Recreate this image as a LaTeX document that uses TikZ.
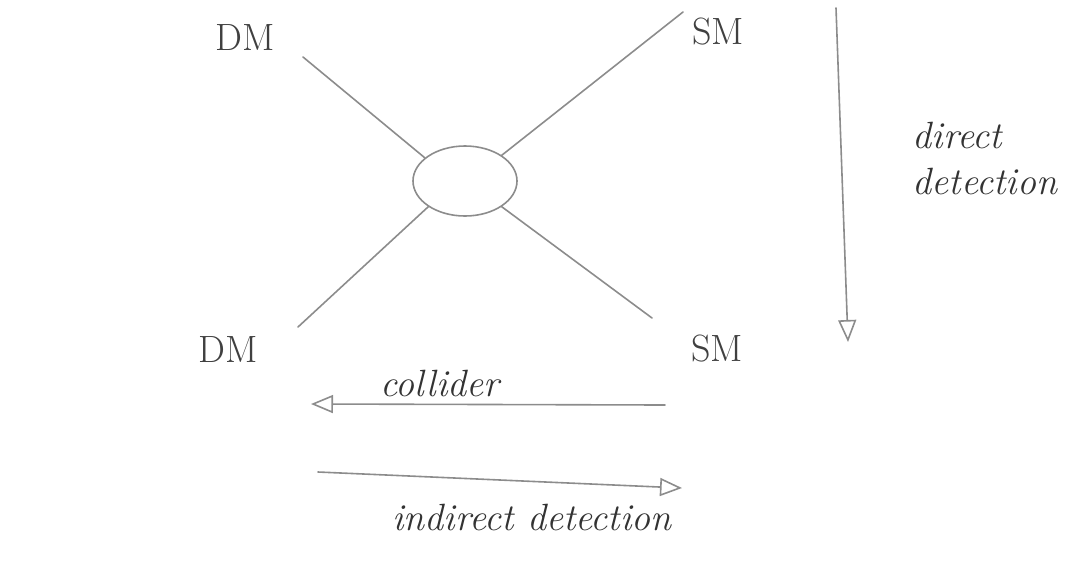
\documentclass[tikz,border=0pt]{standalone}
\usetikzlibrary{arrows.meta,shapes.geometric}
\begin{document}
\begin{tikzpicture}[x=1pt,y=-1pt,
  pen/.style={draw=black!45, line width=1.6pt, line cap=round},
  lbl/.style={font=\fontsize{38}{40}\selectfont, text=black!75, inner sep=0pt},
  hand/.style={font=\fontsize{38}{46}\selectfont\itshape, text=black!80, inner sep=0pt, align=left},
  tip/.style={-{Triangle[open,length=22pt,width=18pt]}}
]
\useasboundingbox (0,0) rectangle (1081,563);
% particles
\node[lbl] (dm1) at (245,38) {DM};
\node[lbl] (sm1) at (718,32) {SM};
\node[lbl] (dm2) at (228,350) {DM};
\node[lbl] (sm2) at (717,349) {SM};
% blob
\node[pen, ellipse, minimum width=104pt, minimum height=70pt, draw] (blob) at (465,181) {};
% legs
\coordinate (a1) at (303,57);
\coordinate (a2) at (683,12);
\coordinate (a3) at (298,327);
\coordinate (a4) at (652,318);
\draw[pen] (a1) -- (blob.150);
\draw[pen] (a2) -- (blob.35);
\draw[pen] (a3) -- (blob.215);
\draw[pen] (a4) -- (blob.-35);
% direct detection
\coordinate (d1) at (836,8);
\coordinate (d2) at (848,342);
\draw[pen, tip] (d1) -- (d2);
\node[hand] (dd) at (985,158) {direct\\detection};
% collider
\coordinate (c1) at (665,405);
\coordinate (c2) at (311,404);
\draw[pen, tip] (c1) -- (c2);
\node[hand] (col) at (440,383) {collider};
% indirect detection
\coordinate (i1) at (318,472);
\coordinate (i2) at (682,488);
\draw[pen, tip] (i1) -- (i2);
\node[hand] (ind) at (532,517) {indirect detection};
\end{tikzpicture}
\end{document}
